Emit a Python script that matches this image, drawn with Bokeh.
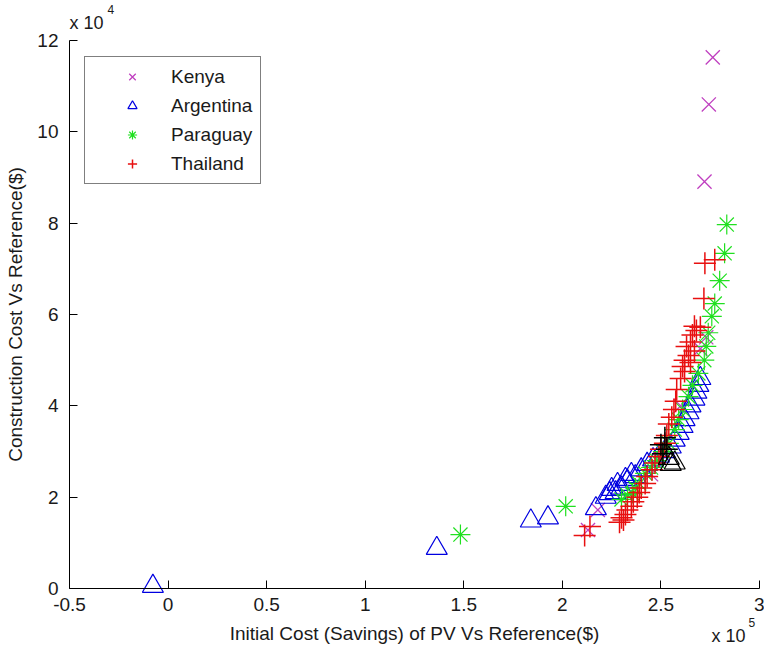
from bokeh.plotting import figure
from bokeh.models import Range1d, FixedTicker, Label
from bokeh.embed import file_html
from bokeh.resources import INLINE

# values; x in units of 1e5 $, y in units of 1e4 $
X_SCALE = 1e5
Y_SCALE = 1e4

kenya_x = [2.763, 2.743, 2.721, 2.13, 2.18, 2.45, 2.60, 2.70, 2.73]
kenya_y = [11.63, 10.60, 8.91, 1.28, 1.72, 2.50, 4.00, 5.25, 5.50]

argentina_x = [-0.077, 1.363, 1.84, 1.927, 2.17, 2.22, 2.24, 2.25, 2.27, 2.28, 2.30, 2.32,
               2.33, 2.35, 2.37, 2.40, 2.43, 2.46, 2.49, 2.52, 2.55, 2.57, 2.59, 2.61,
               2.62, 2.64, 2.65, 2.67, 2.68, 2.69, 2.70]
argentina_y = [0.05, 0.88, 1.48, 1.55, 1.75, 2.00, 2.08, 2.17, 2.10, 2.28, 2.20, 2.39,
               2.35, 2.50, 2.45, 2.60, 2.72, 2.82, 2.90, 3.00, 3.10, 3.25, 3.40, 3.55,
               3.70, 3.85, 4.00, 4.15, 4.30, 4.45, 4.60]

paraguay_x = [1.483, 2.017, 2.30, 2.33, 2.355, 2.37, 2.39, 2.42, 2.45, 2.48, 2.51, 2.54,
              2.57, 2.59, 2.61, 2.64, 2.66, 2.69, 2.72, 2.73, 2.74, 2.758, 2.773, 2.798,
              2.823, 2.834]
paraguay_y = [1.18, 1.80, 1.95, 2.05, 2.08, 2.20, 2.30, 2.52, 2.65, 2.80, 3.00, 3.18,
              3.48, 3.70, 3.92, 4.20, 4.45, 4.71, 5.00, 5.30, 5.60, 5.96, 6.24, 6.74,
              7.34, 7.97]

thailand_x = [2.113, 2.14, 2.29, 2.30, 2.31, 2.32, 2.33, 2.35, 2.36, 2.38, 2.39, 2.40,
              2.42, 2.43, 2.455, 2.47, 2.49, 2.50, 2.52, 2.53, 2.54, 2.555, 2.566, 2.575,
              2.58, 2.60, 2.61, 2.62, 2.62, 2.63, 2.64, 2.65, 2.65, 2.66, 2.67, 2.67,
              2.68, 2.70, 2.718, 2.723, 2.773]
thailand_y = [1.16, 1.36, 1.45, 1.55, 1.50, 1.62, 1.72, 1.80, 1.90, 2.00, 2.10, 2.20,
              2.30, 2.45, 2.60, 2.75, 2.89, 3.05, 3.18, 3.35, 3.60, 3.75, 3.92, 4.10,
              4.36, 4.60, 4.86, 5.00, 4.75, 5.30, 5.10, 5.40, 4.95, 5.55, 5.74, 5.20,
              5.65, 5.72, 6.35, 7.12, 7.20]

other_tri_x = [2.55, 2.57, 2.54]
other_tri_y = [2.72, 2.75, 2.85]
other_plus_x = [2.50, 2.52, 2.53, 2.51]
other_plus_y = [3.15, 3.30, 3.05, 2.95]

x_ticks = [-0.5, 0, 0.5, 1, 1.5, 2, 2.5, 3]
x_tick_labels = ["-0.5", "0", "0.5", "1", "1.5", "2", "2.5", "3"]
y_ticks = [0, 2, 4, 6, 8, 10, 12]
y_tick_labels = ["0", "2", "4", "6", "8", "10", "12"]

FONT = "Liberation Sans"
TXT = "#1a1a1a"

# canvas / axes geometry (pixels inside the 764x645 canvas)
W, H = 764, 645
AX_L, AX_R, AX_T, AX_B = 69, 759, 40, 588

x0, x1 = x_ticks[0] * X_SCALE, x_ticks[-1] * X_SCALE
y0, y1 = y_ticks[0] * Y_SCALE, y_ticks[-1] * Y_SCALE
kx = (x1 - x0) / (AX_R - AX_L)
ky = (y1 - y0) / (AX_B - AX_T)


def px_to_x(px):
    return x0 + (px - AX_L) * kx


def py_to_y(py):
    return y0 + (AX_B - py) * ky


def sx(v):
    return [a * X_SCALE for a in v]


def sy(v):
    return [a * Y_SCALE for a in v]


p = figure(width=W, height=H, output_backend="svg", toolbar_location=None,
           x_range=Range1d(px_to_x(0), px_to_x(W)),
           y_range=Range1d(py_to_y(H), py_to_y(0)),
           min_border=0)
p.outline_line_color = None
p.grid.visible = False
p.background_fill_color = "white"
p.border_fill_color = "white"

p.scatter(sx(kenya_x), sy(kenya_y), marker="x", size=20, line_color="#c040c0",
          line_width=1.3, legend_label="Kenya")
p.scatter(sx(argentina_x), sy(argentina_y), marker="triangle", size=21, fill_color=None,
          line_color="#0000e0", line_width=1.2, legend_label="Argentina")
p.scatter(sx(paraguay_x), sy(paraguay_y), marker="asterisk", size=20, line_color="#20e020",
          line_width=1.2, legend_label="Paraguay")
p.scatter(sx(thailand_x), sy(thailand_y), marker="cross", size=22, line_color="#e81010",
          line_width=1.5, legend_label="Thailand")
p.scatter(sx(other_tri_x), sy(other_tri_y), marker="triangle", size=21, fill_color=None,
          line_color="black", line_width=1.2)
p.scatter(sx(other_plus_x), sy(other_plus_y), marker="cross", size=22, line_color="black",
          line_width=1.5)

for ax in (p.xaxis[0], p.yaxis[0]):
    ax.axis_line_color = "black"
    ax.axis_line_width = 1
    ax.major_tick_line_color = "black"
    ax.major_tick_in = 8
    ax.major_tick_out = 0
    ax.minor_tick_line_color = None
    ax.major_label_text_font = FONT
    ax.major_label_text_font_size = "19px"
    ax.major_label_text_color = TXT
    ax.axis_label_text_font = FONT
    ax.axis_label_text_font_size = "19px"
    ax.axis_label_text_font_style = "normal"
    ax.axis_label_text_color = TXT

p.xaxis.fixed_location = y0
p.yaxis.fixed_location = x0
p.xaxis.bounds = (x0, x1)
p.yaxis.bounds = (y0, y1)
p.xaxis.ticker = FixedTicker(ticks=[t * X_SCALE for t in x_ticks])
p.xaxis.major_label_overrides = {t * X_SCALE: l for t, l in zip(x_ticks, x_tick_labels)}
p.yaxis.ticker = FixedTicker(ticks=[t * Y_SCALE for t in y_ticks])
p.yaxis.major_label_overrides = {t * Y_SCALE: l for t, l in zip(y_ticks, y_tick_labels)}
p.xaxis.axis_label = "Initial Cost (Savings) of PV Vs Reference($)"
p.yaxis.axis_label = "Construction Cost Vs Reference($)"
p.xaxis.major_label_standoff = 9
p.yaxis.major_label_standoff = 11
p.xaxis.axis_label_standoff = 9
p.yaxis.axis_label_standoff = 8

# exponent labels (canvas pixel positions)
p.add_layout(Label(x=px_to_x(69), y=py_to_y(22), text="x 10", text_font=FONT,
                   text_font_size="18px", text_color=TXT, text_baseline="alphabetic"))
p.add_layout(Label(x=px_to_x(107), y=py_to_y(9), text="4", text_font=FONT,
                   text_font_size="12px", text_color=TXT, text_baseline="alphabetic"))
p.add_layout(Label(x=px_to_x(711), y=py_to_y(635), text="x 10", text_font=FONT,
                   text_font_size="18px", text_color=TXT, text_baseline="alphabetic"))
p.add_layout(Label(x=px_to_x(748), y=py_to_y(622), text="5", text_font=FONT,
                   text_font_size="12px", text_color=TXT, text_baseline="alphabetic"))

leg = p.legend[0]
leg.padding = 8
leg.spacing = 6
leg.glyph_width = 78
leg.glyph_height = 23
leg.label_height = 23
leg.label_standoff = 0
leg_h = 2 * leg.padding + 4 * leg.label_height + 3 * leg.spacing
leg.location = (84, H - 58 - leg_h)
leg.margin = 0
leg.label_text_font = FONT
leg.label_text_font_size = "19px"
leg.label_text_color = TXT
leg.border_line_color = "black"
leg.border_line_width = 1
leg.background_fill_color = "white"
leg.background_fill_alpha = 1

open("out.html", "w").write(file_html(p, INLINE))
